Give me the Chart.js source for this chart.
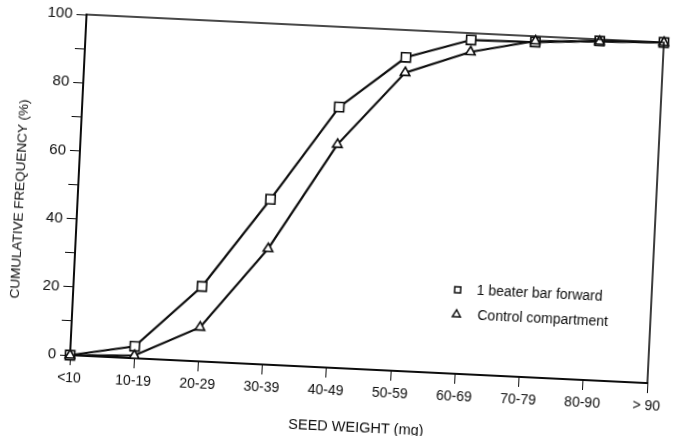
<!DOCTYPE html>
<html>
<head>
<meta charset="utf-8">
<script src="https://cdn.jsdelivr.net/npm/chart.js@4.4.1/dist/chart.umd.min.js"></script>
<style>
html,body{margin:0;padding:0;background:#fff;overflow:hidden}
#wrap{width:678px;height:436px;transform:rotate(2.77deg);transform-origin:50% 50%}
</style>
</head>
<body>
<div id="wrap"><canvas id="seedChart" width="678" height="436"></canvas></div>
<script>
// seed weight classes (mg)
const weightClasses = ['<10','10-19','20-29','30-39','40-49','50-59','60-69','70-79','80-90','> 90'];
// cumulative frequency (%)
const beaterForward = [0, 3.5, 22, 48.5, 76.5, 92, 98, 98.3, 99.5, 100];
const controlComp   = [0, 0.8, 10, 34, 65.5, 87.5, 94.5, 98.6, 99.4, 100];
const seriesNames = ['1 beater bar forward','Control compartment'];
const yMin = 0, yMax = 100, yStep = 10;

const ink = '#0d0d0d';
const fam = "'Liberation Sans', Arial, Helvetica, sans-serif";

// box frame (top + right edges) and the in-plot key
const frameAndKey = {
  id:'frameAndKey',
  afterDraw(chart){
    const {ctx, chartArea:a} = chart;
    ctx.save();
    ctx.strokeStyle = ink; ctx.lineWidth = 1.6;
    ctx.beginPath();
    ctx.moveTo(a.left, a.top); ctx.lineTo(a.right, a.top); ctx.lineTo(a.right, a.bottom);
    ctx.stroke();
    // key
    const mx = a.right - 194, rows = [a.bottom - 84, a.bottom - 60];
    ctx.lineWidth = 1.5;
    ctx.strokeRect(mx - 3, rows[0] - 3, 6, 6);
    ctx.beginPath();
    ctx.moveTo(mx, rows[1] - 4); ctx.lineTo(mx + 4, rows[1] + 3); ctx.lineTo(mx - 4, rows[1] + 3); ctx.closePath();
    ctx.stroke();
    ctx.fillStyle = ink; ctx.font = '14px ' + fam; ctx.textBaseline = 'middle';
    ctx.fillText(seriesNames[0], mx + 19, rows[0]);
    ctx.fillText(seriesNames[1], mx + 21, rows[1] + 1);
    ctx.restore();
  }
};

function initSeedChart(){
  const ctx = document.getElementById('seedChart').getContext('2d');
  new Chart(ctx,{
    type:'line',
    data:{labels:weightClasses, datasets:[
      {label:seriesNames[1], data:controlComp, borderColor:ink, borderWidth:2.2, tension:0,
       pointStyle:'triangle', pointRadius:5.5, pointBackgroundColor:'#fff', pointBorderColor:ink, pointBorderWidth:1.6, clip:false},
      {label:seriesNames[0], data:beaterForward, borderColor:ink, borderWidth:2.2, tension:0,
       pointStyle:'rect', pointRadius:6.5, pointBackgroundColor:'#fff', pointBorderColor:ink, pointBorderWidth:1.6, clip:false}
    ]},
    options:{
      responsive:false, animation:false,
      layout:{padding:{left:0, top:27, right:23, bottom:0}},
      plugins:{legend:{display:false}, tooltip:{enabled:false}},
      scales:{
        x:{
          offset:false,
          grid:{display:true, drawOnChartArea:false, drawTicks:true, tickLength:10, color:ink, offset:false},
          border:{display:true, color:ink, width:2},
          ticks:{color:ink, font:{family:fam, size:14}, padding:5, maxRotation:0, autoSkip:false},
          title:{display:true, text:'SEED WEIGHT (mg)', color:ink, font:{family:fam, size:14.5}, padding:{top:5, bottom:0}},
          afterFit(s){ s.height = 68; }
        },
        y:{
          min:yMin, max:yMax,
          grid:{display:true, drawOnChartArea:false, drawTicks:true, tickLength:10, color:ink},
          border:{display:true, color:ink, width:2},
          ticks:{stepSize:yStep, color:ink, font:{family:fam, size:15}, padding:4,
                 callback:v => (v % 20 === 0 ? v : '')},
          // trailing spaces push the centred title down, as in the figure
          title:{display:true, text:'CUMULATIVE FREQUENCY (%)' + '\u00a0'.repeat(9), color:ink, font:{family:fam, size:13.5}, padding:{top:11, bottom:0}},
          afterFit(s){ s.width = 77; }
        }
      }
    },
    plugins:[frameAndKey]
  });
}
initSeedChart();
</script>
</body>
</html>
